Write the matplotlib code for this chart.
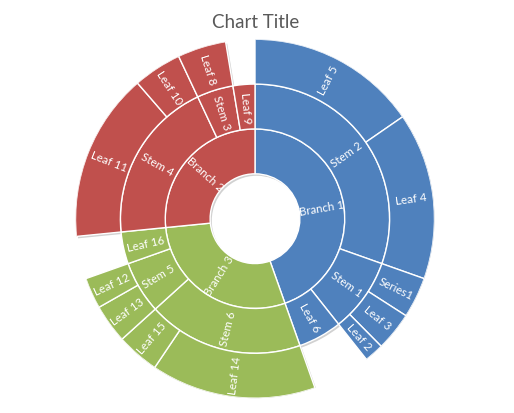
import numpy as np
import matplotlib
matplotlib.use("Agg")
import matplotlib.pyplot as plt
import matplotlib.patheffects as pe

# ---- data (clockwise order from 12 o'clock) ----
leaf_names = ["Leaf 5", "Leaf 4", "Series1", "Leaf 3", "Leaf 2", "Leaf 6",
              "Leaf 14", "Leaf 15", "Leaf 13", "Leaf 12", "Leaf 16",
              "Leaf 11", "Leaf 10", "Leaf 8", "Leaf 9"]
leaf_values = [88, 86, 21, 20, 10, 30,
               85, 22, 20, 16, 22,
               87, 25, 25, 15]
leaf_stems = ["Stem 2", "Stem 2", "Stem 1", "Stem 1", "Stem 1", None,
              "Stem 6", "Stem 6", "Stem 5", "Stem 5", None,
              "Stem 4", "Stem 4", "Stem 3", None]
leaf_branches = ["Branch 1"] * 6 + ["Branch 3"] * 5 + ["Branch 2"] * 4
branch_colors = {"Branch 1": "#4F81BD", "Branch 2": "#C0504D", "Branch 3": "#9BBB59"}
title = "Chart Title"

plt.rcParams["font.family"] = ["Lato", "DejaVu Sans"]

fig = plt.figure(figsize=(5.14, 4.14), dpi=100)
ax = fig.add_axes([0.14689, 0.03575, 0.69844, 0.86715], projection="polar")
ax.set_theta_zero_location("N")
ax.set_theta_direction(-1)
ax.set_ylim(0, 4)
ax.set_axis_off()

total = float(sum(leaf_values))
k = 2 * np.pi / total


def group(keys, vals):
    out = []
    for key, v in zip(keys, vals):
        if out and out[-1][0] == key:
            out[-1][1] += v
        else:
            out.append([key, v])
    return out


def rot_for(theta):
    r = 90 - np.degrees(theta)
    while r <= -90:
        r += 180
    while r > 90:
        r -= 180
    return r


shadow = [pe.SimplePatchShadow(offset=(1.2, -1.4), shadow_rgbFace="#000000", alpha=0.18)]


def draw_ring(segments, r_in):
    start = 0.0
    for (key, v) in segments:
        branch, label, show = key
        w = v * k
        if show:
            mid = start + w / 2
            ax.bar(mid, 1.0, width=w, bottom=r_in, color="#888888",
                   linewidth=0, align="center", zorder=1, path_effects=shadow)
            ax.bar(mid, 1.0, width=w, bottom=r_in,
                   color=branch_colors[branch], edgecolor="white",
                   linewidth=1.0, align="center", zorder=2)
            ax.text(mid, r_in + 0.5, label, rotation=rot_for(mid),
                    rotation_mode="anchor", ha="center", va="center",
                    color="white", fontsize=8.3, zorder=3)
        start += w


# ring 1: branches
ring1 = group([(b, b, True) for b in leaf_branches], leaf_values)
draw_ring(ring1, 1.0)
# ring 2: stems, or leaves without a stem
ring2 = group([(b, s if s else n, True) for b, s, n in
               zip(leaf_branches, leaf_stems, leaf_names)], leaf_values)
draw_ring(ring2, 2.0)
# ring 3: leaves under stems
ring3 = [[(b, n, s is not None), v] for b, s, n, v in
         zip(leaf_branches, leaf_stems, leaf_names, leaf_values)]
draw_ring(ring3, 3.0)

fig.text(0.497, 1 - 23 / 414, title, ha="center", va="center",
         fontsize=13.5, color="#595959")

fig.savefig("out.png", dpi=100, facecolor="white")
